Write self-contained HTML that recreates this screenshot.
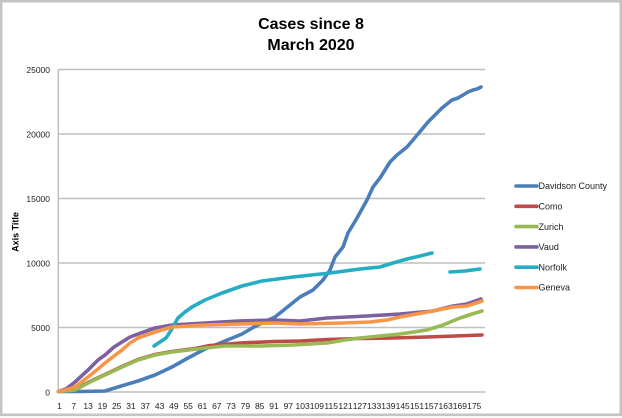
<!DOCTYPE html>
<html><head><meta charset="utf-8"><style>
html,body{margin:0;padding:0;background:#fff;}
svg{display:block;font-family:"Liberation Sans",sans-serif;}
</style></head><body>
<svg width="622" height="418" viewBox="0 0 622 418" xmlns="http://www.w3.org/2000/svg">
<rect x="0" y="0" width="622" height="418" fill="#fff"/>
<rect x="1.2" y="1.2" width="619.6" height="413.6" fill="none" stroke="#c4c4c4" stroke-width="2.6"/>
<text x="311" y="29" text-anchor="middle" font-size="16" font-weight="bold" fill="#000">Cases since 8</text>
<text x="311" y="50" text-anchor="middle" font-size="16" font-weight="bold" fill="#000">March 2020</text>
<g stroke="#bfbfbf" stroke-width="1.5">
<line x1="58.3" y1="69.5" x2="485" y2="69.5"/>
<line x1="58.3" y1="134" x2="485" y2="134"/>
<line x1="58.3" y1="198.5" x2="485" y2="198.5"/>
<line x1="58.3" y1="263" x2="485" y2="263"/>
<line x1="58.3" y1="327.5" x2="485" y2="327.5"/>
<line x1="58.3" y1="392" x2="485.5" y2="392"/>
<line x1="58.3" y1="69" x2="58.3" y2="392.5"/>
</g>
<g font-size="8.5" fill="#222" text-anchor="end">
<text x="50" y="73">25000</text>
<text x="50" y="137.5">20000</text>
<text x="50" y="202">15000</text>
<text x="50" y="266.5">10000</text>
<text x="50" y="331">5000</text>
<text x="50" y="395.5">0</text>
</g>
<text transform="translate(18.5,232) rotate(-90)" text-anchor="middle" font-size="9" font-weight="bold" fill="#000">Axis Title</text>
<g font-size="8.5" fill="#222" text-anchor="middle">
<text x="59.5" y="409">1</text>
<text x="73.8" y="409">7</text>
<text x="88.1" y="409">13</text>
<text x="102.4" y="409">19</text>
<text x="116.7" y="409">25</text>
<text x="131.0" y="409">31</text>
<text x="145.3" y="409">37</text>
<text x="159.6" y="409">43</text>
<text x="173.9" y="409">49</text>
<text x="188.2" y="409">55</text>
<text x="202.5" y="409">61</text>
<text x="216.8" y="409">67</text>
<text x="231.1" y="409">73</text>
<text x="245.4" y="409">79</text>
<text x="259.7" y="409">85</text>
<text x="274.0" y="409">91</text>
<text x="288.3" y="409">97</text>
<text x="302.6" y="409">103</text>
<text x="316.9" y="409">109</text>
<text x="331.2" y="409">115</text>
<text x="345.5" y="409">121</text>
<text x="359.8" y="409">127</text>
<text x="374.1" y="409">133</text>
<text x="388.4" y="409">139</text>
<text x="402.7" y="409">145</text>
<text x="417.0" y="409">151</text>
<text x="431.3" y="409">157</text>
<text x="445.6" y="409">163</text>
<text x="459.9" y="409">169</text>
<text x="474.2" y="409">175</text>
</g>
<g fill="none" stroke-width="3.6" stroke-linejoin="round" stroke-linecap="round">
<!-- Davidson County -->
<polyline stroke="#4a7ebb" points="58.5,391.5 80,391.5 105,391 118,387 138,381 155,375 172,367 188,358 205,349 225,341 242,334 253,327.5 264,322 275,317 280,313 290,305 300,297 313,290 323,280 330,270 335,257 343,247 348,233 357,218 367,200 373,187 380,178 390,162 397,155 407,147 413,140 418,134 428,122 436,114 442,108 447,104 452,100 458,98 463,95 468,92 473,90 477,89 481,87"/>
<!-- Como -->
<polyline stroke="#be4b48" points="58.5,391.5 75,389.5 88,382.5 105,374.5 122,366.5 138,359.5 155,354.5 172,351.5 195,348.5 210,345.5 240,343 275,341.5 300,341 327,339.5 360,338.5 393,338 427,337 455,336 482,335"/>
<!-- Zurich -->
<polyline stroke="#98b954" points="58.5,391.5 75,390 88,383 105,375 122,367 138,360 155,355 172,352 205,348 225,346 260,346 293,345 327,343 345,340 360,338 380,336 400,334 427,330 443,325 460,318 472,314 482,311"/>
<!-- Vaud -->
<polyline stroke="#7d60a0" points="58.5,391.5 66,389 75,382 88,370 98,360 105,355 114,347 122,342 130,337 138,334 155,328 172,325 205,323 238,321 275,320 300,321 327,318 367,316 400,314 433,311 453,306 467,304 481,299"/>
<!-- Norfolk -->
<polyline stroke="#25adc3" points="154,346 160,342 166,338 170,332 174,325 178,318 185,312 192,307 205,300 222,293 242,286 262,281 293,277 330,273 360,269 380,267 393,263 407,259 420,256 432,253"/>
<polyline stroke="#25adc3" points="450,272 465,271 480,269"/>
<!-- Geneva -->
<polyline stroke="#f79646" points="58.5,391.5 66,390 75,387 88,377 98,369 105,363 114,356 122,350 130,343 138,338 155,332 172,327 205,325 240,324 275,323 300,324 343,323 370,322 387,320 400,317 433,311 453,307 467,306 482,301"/>
</g>
<g stroke-width="3.6" stroke-linecap="round">
<line x1="516" y1="186" x2="537" y2="186" stroke="#4a7ebb"/>
<line x1="516" y1="206.3" x2="537" y2="206.3" stroke="#be4b48"/>
<line x1="516" y1="226.6" x2="537" y2="226.6" stroke="#98b954"/>
<line x1="516" y1="246.9" x2="537" y2="246.9" stroke="#7d60a0"/>
<line x1="516" y1="267.2" x2="537" y2="267.2" stroke="#25adc3"/>
<line x1="516" y1="287.5" x2="537" y2="287.5" stroke="#f79646"/>
</g>
<g font-size="9" fill="#222">
<text x="538.5" y="189.2">Davidson County</text>
<text x="538.5" y="209.5">Como</text>
<text x="538.5" y="229.8">Zurich</text>
<text x="538.5" y="250.1">Vaud</text>
<text x="538.5" y="270.4">Norfolk</text>
<text x="538.5" y="290.7">Geneva</text>
</g>
</svg>
</body></html>
